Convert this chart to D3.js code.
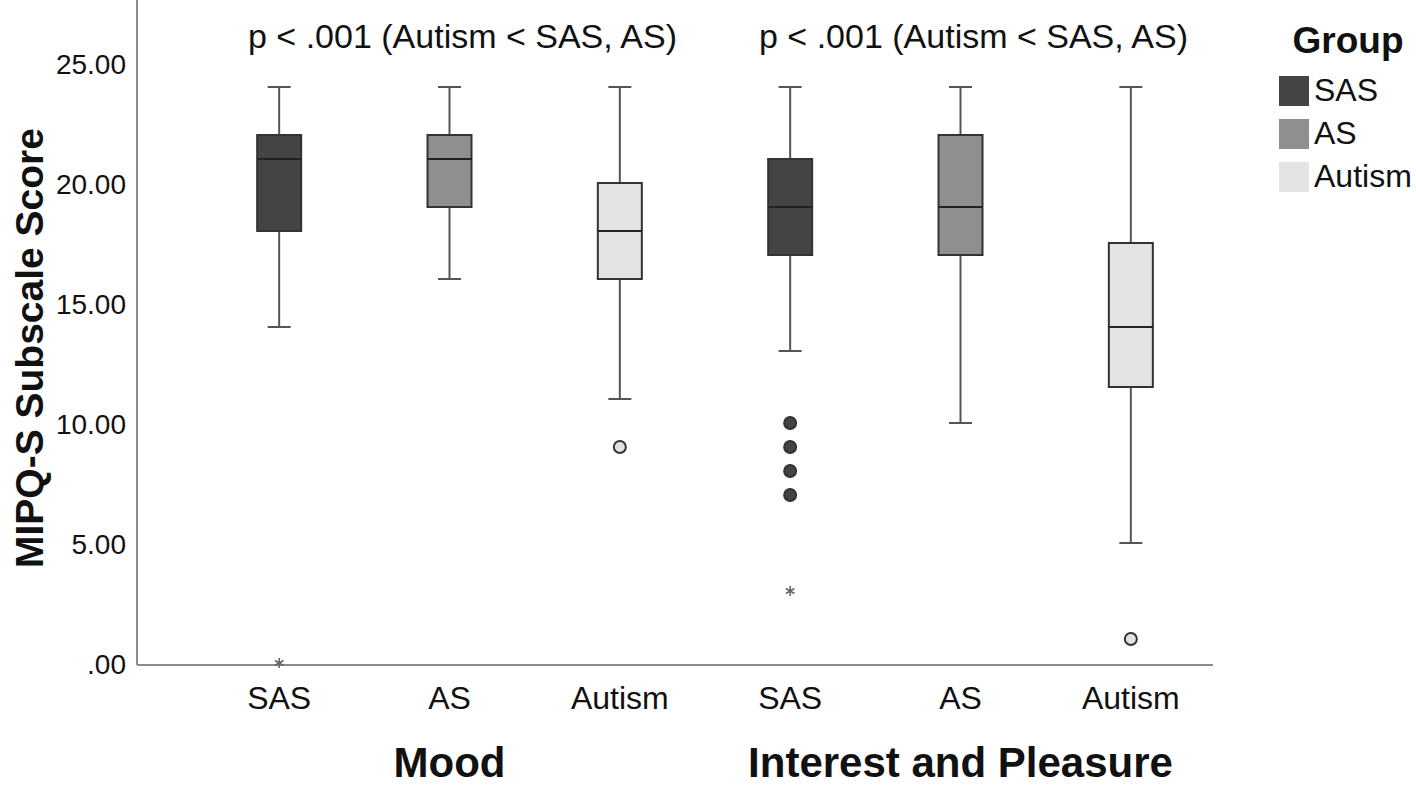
<!DOCTYPE html>
<html>
<head>
<meta charset="utf-8">
<script src="https://cdn.jsdelivr.net/npm/d3@7"></script>
<style>
  body { margin: 0; background: #fff; }
  text { font-family: "Liberation Sans", Arial, sans-serif; }
</style>
</head>
<body>
<svg id="chart" width="1416" height="786"></svg>
<script>
// data
const subscales = ["Mood", "Interest and Pleasure"];
const groups = ["SAS", "AS", "Autism"];
const groupColors = ["#444444", "#8f8f8f", "#e3e3e3"];
const yTicks = [0, 5, 10, 15, 20, 25];
const pLabels = ["p < .001 (Autism < SAS, AS)", "p < .001 (Autism < SAS, AS)"];

// box stats per subscale, in group order: [min, q1, median, q3, max]
const moodStats = [[14, 18, 21, 22, 24], [16, 19, 21, 22, 24], [11, 16, 18, 20, 24]];
const interestStats = [[13, 17, 19, 21, 24], [10, 17, 19, 22, 24], [5, 11.5, 14, 17.5, 24]];
// outliers (circles) and extremes (stars)
const moodOutliers = [[], [], [9]];
const moodExtremes = [[0], [], []];
const interestOutliers = [[10, 9, 8, 7], [], [1]];
const interestExtremes = [[3], [], []];

const stats = [moodStats, interestStats];
const outliers = [moodOutliers, interestOutliers];
const extremes = [moodExtremes, interestExtremes];

var svg = d3.select("#chart");

var y = d3.scaleLinear().domain([0, 25]).range([663, 63]);
var x0 = d3.scaleBand().domain(subscales).range([194, 1216]);
var x1 = d3.scaleBand().domain(groups).range([0, x0.bandwidth()]);
var color = d3.scaleOrdinal().domain(groups).range(groupColors);

var boxW = 44, capW = 23;

// axes lines (no tick marks in the reference)
svg.append("line").attr("x1", 137).attr("x2", 137).attr("y1", 0).attr("y2", 665)
  .attr("stroke", "#8a8a8a").attr("stroke-width", 2);
svg.append("line").attr("x1", 137).attr("x2", 1213).attr("y1", 665).attr("y2", 665)
  .attr("stroke", "#8a8a8a").attr("stroke-width", 2);

// y tick labels
svg.selectAll(".ytick").data(yTicks).enter().append("text")
  .attr("x", 126).attr("y", d => y(d) + 4)
  .attr("text-anchor", "end").attr("dominant-baseline", "middle")
  .attr("font-size", 28).attr("fill", "#111")
  .text(d => d === 0 ? ".00" : d.toFixed(2));

// y title
svg.append("text")
  .attr("transform", "translate(33,348) rotate(-90)")
  .attr("text-anchor", "middle").attr("dominant-baseline", "middle")
  .attr("font-size", 39).attr("font-weight", "bold").attr("fill", "#111")
  .text("MIPQ-S Subscale Score");

subscales.forEach(function (s, si) {
  var g = svg.append("g").attr("transform", "translate(" + x0(s) + ",0)");

  groups.forEach(function (grp, gi) {
    var st = stats[si][gi];
    var cx = x1(grp) + x1.bandwidth() / 2;

    // whiskers
    g.append("line").attr("x1", cx).attr("x2", cx).attr("y1", y(st[4])).attr("y2", y(st[3]))
      .attr("stroke", "#555").attr("stroke-width", 2);
    g.append("line").attr("x1", cx).attr("x2", cx).attr("y1", y(st[1])).attr("y2", y(st[0]))
      .attr("stroke", "#555").attr("stroke-width", 2);
    [st[0], st[4]].forEach(function (v) {
      g.append("line").attr("x1", cx - capW / 2).attr("x2", cx + capW / 2)
        .attr("y1", y(v)).attr("y2", y(v))
        .attr("stroke", "#555").attr("stroke-width", 2);
    });

    // box
    g.append("rect")
      .attr("x", cx - boxW / 2).attr("y", y(st[3]))
      .attr("width", boxW).attr("height", y(st[1]) - y(st[3]))
      .attr("fill", color(grp)).attr("stroke", "#333").attr("stroke-width", 2);
    g.append("line").attr("x1", cx - boxW / 2).attr("x2", cx + boxW / 2)
      .attr("y1", y(st[2])).attr("y2", y(st[2]))
      .attr("stroke", "#222").attr("stroke-width", 2);

    // outliers
    g.selectAll(null).data(outliers[si][gi]).enter().append("circle")
      .attr("cx", cx).attr("cy", d => y(d)).attr("r", 6)
      .attr("fill", color(grp)).attr("stroke", "#333").attr("stroke-width", 2);

    // extremes
    g.selectAll(null).data(extremes[si][gi]).enter().append("path")
      .attr("transform", d => "translate(" + cx + "," + y(d) + ")")
      .attr("d", d3.symbol().type(d3.symbolAsterisk).size(70))
      .attr("fill", "none").attr("stroke", "#666").attr("stroke-width", 1.6);

    // group label under axis
    g.append("text")
      .attr("x", cx).attr("y", 709)
      .attr("text-anchor", "middle").attr("font-size", 32).attr("fill", "#111")
      .text(grp);
  });

  // subscale label
  svg.append("text")
    .attr("x", x0(s) + x0.bandwidth() / 2).attr("y", 777)
    .attr("text-anchor", "middle").attr("font-size", 42).attr("font-weight", "bold").attr("fill", "#111")
    .text(s);

  // p-value annotation
  svg.append("text")
    .attr("x", x0(s) + x0.bandwidth() / 2 + 13).attr("y", 48)
    .attr("text-anchor", "middle").attr("font-size", 34).attr("fill", "#111")
    .text(pLabels[si]);
});

// legend
svg.append("text").attr("x", 1348).attr("y", 53)
  .attr("text-anchor", "middle").attr("font-size", 37).attr("font-weight", "bold").attr("fill", "#111")
  .text("Group");

var leg = svg.selectAll(".leg").data(groups).enter().append("g")
  .attr("transform", (d, i) => "translate(1279," + (76 + i * 43) + ")");
leg.append("rect").attr("width", 30).attr("height", 30).attr("fill", d => color(d));
leg.append("text").attr("x", 35).attr("y", 17).attr("dominant-baseline", "middle")
  .attr("font-size", 32).attr("fill", "#111").text(d => d);
</script>
</body>
</html>
